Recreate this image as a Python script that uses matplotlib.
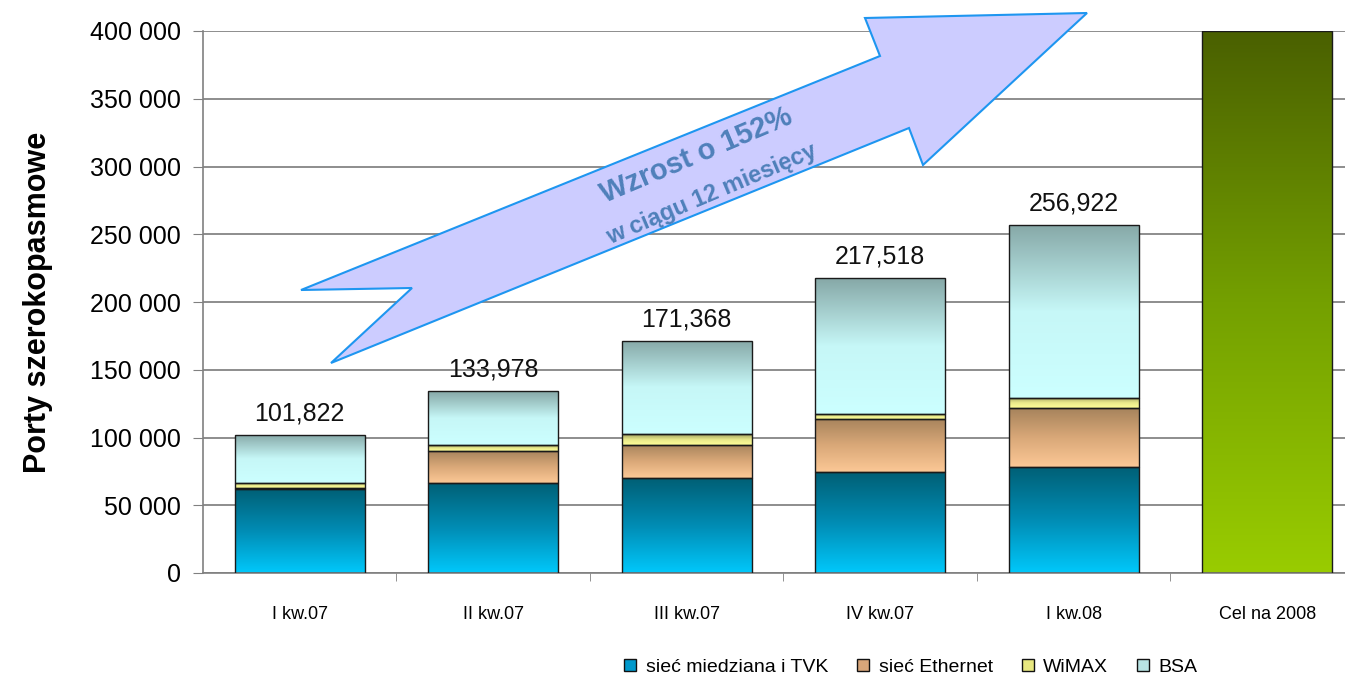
import numpy as np
import matplotlib
matplotlib.use('Agg')
import matplotlib.pyplot as plt
from matplotlib.colors import LinearSegmentedColormap
from matplotlib.patches import Polygon
from matplotlib.lines import Line2D
from matplotlib.ticker import FuncFormatter

plt.rcParams['font.family'] = ['Liberation Sans', 'DejaVu Sans']

# dane
categories = ['I kw.07', 'II kw.07', 'III kw.07', 'IV kw.07', 'I kw.08', 'Cel na 2008']
totals = [101822, 133978, 171368, 217518, 256922]
copper = [62000, 66500, 70000, 74500, 78500]
ethernet = [500, 23800, 24500, 39200, 43000]
wimax = [3800, 4000, 7800, 3900, 7700]
bsa = [t - c - e - w for t, c, e, w in zip(totals, copper, ethernet, wimax)]
target_2008 = 400000

series_names = ['sieć miedziana i TVK', 'sieć Ethernet', 'WiMAX', 'BSA']
# kolory gradientu (dół -> góra)
grads = {
    'copper': ['#00c8fb', '#008cb4', '#005f75'],
    'ethernet': ['#fcc896', '#d9a878', '#a6835c'],
    'wimax': ['#ffff99', '#e8e88a', '#a0a060'],
    'bsa': ['#ccffff', '#c6f7f7', '#86a8a7'],
    'green': ['#99cc00', '#74a000', '#4a6000'],
}
legend_colors = ['#0099cc', '#d8a67a', '#e8e880', '#b8e4e4']

fig = plt.figure(figsize=(13.45, 6.8), dpi=100)
W, H = 1345, 680
ax = fig.add_axes([203 / W, 1 - 573 / H, (W - 203) / W, (573 - 31) / H])

x = np.arange(len(categories) - 1)
width = 0.67


def gradient_fill(ax, patches, stops):
    cmap = LinearSegmentedColormap.from_list('g', stops)
    grad = np.linspace(0, 1, 256).reshape(-1, 1)
    for p in patches:
        x0, y0 = p.get_x(), p.get_y()
        w, h = p.get_width(), p.get_height()
        if h <= 0:
            continue
        im = ax.imshow(grad, cmap=cmap, extent=(x0, x0 + w, y0, y0 + h),
                       origin='lower', aspect='auto', zorder=2)
        im.set_clip_path(p)


bottom = np.zeros(len(x))
for vals, key in [(copper, 'copper'), (ethernet, 'ethernet'), (wimax, 'wimax'), (bsa, 'bsa')]:
    bars = ax.bar(x, vals, width, bottom=bottom, facecolor='none',
                  edgecolor='#1a1a1a', linewidth=1.0, zorder=3)
    gradient_fill(ax, bars.patches, grads[key])
    bottom += np.array(vals)

bars = ax.bar([len(categories) - 1], [target_2008], width, facecolor='none',
              edgecolor='#1a1a1a', linewidth=1.0, zorder=3)
gradient_fill(ax, bars.patches, grads['green'])

for xi, t in zip(x, totals):
    ax.annotate(f'{t:,}', (xi, t), xytext=(0, 7), textcoords='offset points',
                ha='center', va='bottom', fontsize=18, color='#111111')

ax.set_yticks(np.arange(0, 400001, 50000))
ax.yaxis.set_major_formatter(FuncFormatter(lambda v, _: f'{int(v):,}'.replace(',', ' ')))
ax.set_xticks(np.arange(len(categories)))
ax.set_xticklabels(categories, fontsize=13)
ax.set_xticks(np.arange(len(categories)) + 0.5, minor=True)
ax.set_xlim(-0.5, len(categories) - 0.5 - 19 / 194)
ax.set_ylim(0, 400000)
ax.tick_params(axis='x', which='major', length=0, pad=24)
ax.tick_params(axis='x', which='minor', length=6, color='#808080', direction='out')
ax.tick_params(axis='y', length=7, color='#808080', labelsize=18, pad=9)

ax.grid(axis='y', color='#7a7a7a', linewidth=1.2)
ax.set_axisbelow(True)
for s in ['top', 'right']:
    ax.spines[s].set_visible(False)
for s in ['left', 'bottom']:
    ax.spines[s].set_color('#808080')
    ax.spines[s].set_linewidth(1.2)

ax.set_ylabel('Porty szerokopasmowe', fontsize=22, fontweight='bold')
ax.yaxis.set_label_coords(-0.131, 0.5)

# strzałka wzrostu (piksele obrazu)
arrow_px = [(301, 290), (412, 288), (331, 363), (909, 128), (923, 165),
            (1087, 13), (865, 18), (880, 56)]
arrow = Polygon([(px / W, 1 - py / H) for px, py in arrow_px], closed=True,
                transform=fig.transFigure, facecolor='#ccccff',
                edgecolor='#1e96f0', linewidth=1.5, zorder=5)
fig.add_artist(arrow)
fig.text(696 / W, 1 - 155 / H, 'Wzrost o 152%', rotation=23, fontsize=21,
         fontweight='bold', color='#4f80ba',
         ha='center', va='center', zorder=6)
fig.text(712 / W, 1 - 194 / H, 'w ciągu 12 miesięcy', rotation=23, fontsize=17,
         fontweight='bold', color='#4f80ba',
         ha='center', va='center', zorder=6)

handles = [Line2D([], [], linestyle='none', marker='s', markersize=8,
                  markerfacecolor=c, markeredgecolor='#111111', markeredgewidth=1)
           for c in legend_colors]
fig.legend(handles, series_names, loc='center', bbox_to_anchor=(910 / W, 1 - 667 / H),
           ncol=4, frameon=False, fontsize=14, handlelength=0.8, handletextpad=0.4,
           columnspacing=1.4)

fig.savefig('out.png', dpi=100)
